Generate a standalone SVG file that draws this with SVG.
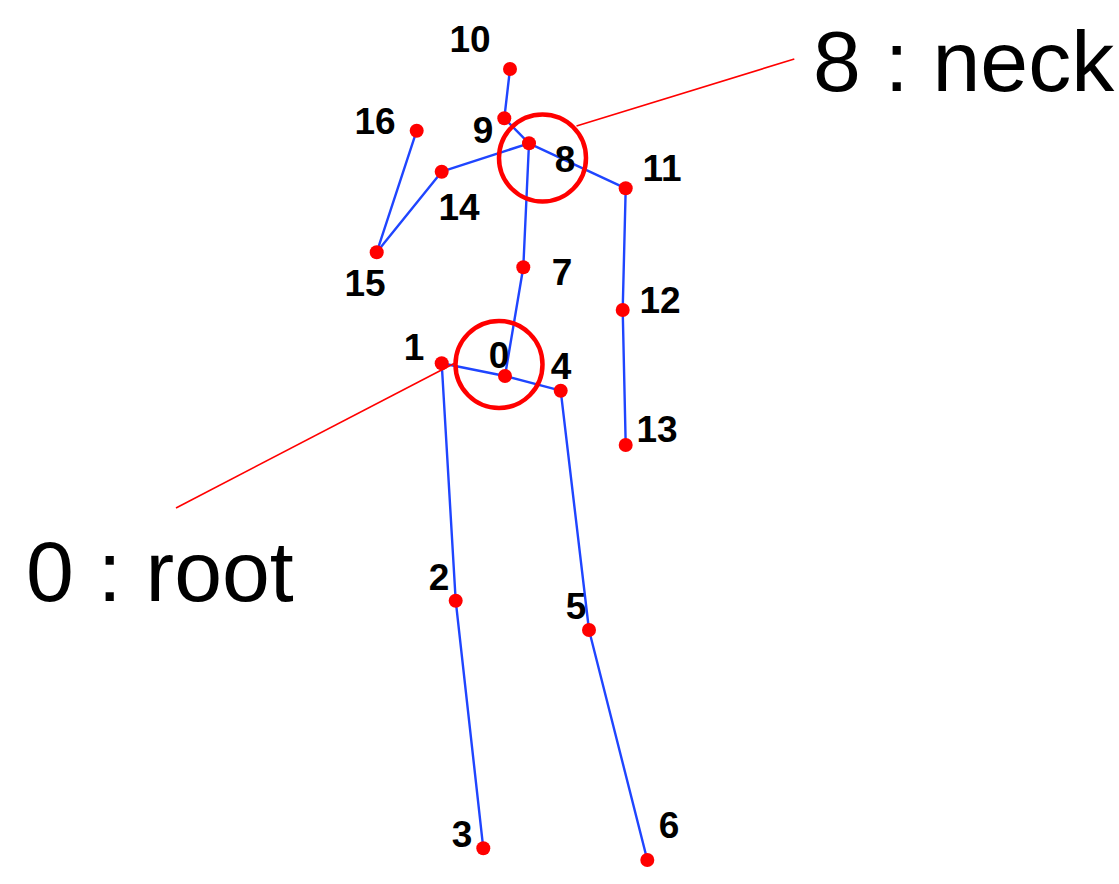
<svg xmlns="http://www.w3.org/2000/svg" width="1119" height="884" viewBox="0 0 1119 884">
<style>
.bone{stroke:#1f45ff;stroke-width:2.4;fill:none;stroke-linecap:round}
.joint{fill:#ff0000}
.lbl{font-family:"Liberation Sans",Arial,sans-serif;font-weight:bold;font-size:37px;fill:#000;text-anchor:middle}
.big{font-family:"Liberation Sans",Arial,sans-serif;font-size:86px;fill:#000}
.hl{fill:none;stroke:#ff0000;stroke-width:4.5}
.lead{stroke:#ff0000;stroke-width:1.6;fill:none}
</style>
<rect width="1119" height="884" fill="#ffffff"/>
<g id="connectors">
<line class="bone" x1="505" y1="376" x2="441.7" y2="363.3"/>
<line class="bone" x1="441.7" y1="363.3" x2="455.7" y2="600.7"/>
<line class="bone" x1="455.7" y1="600.7" x2="483.3" y2="848.3"/>
<line class="bone" x1="505" y1="376" x2="560.7" y2="390.7"/>
<line class="bone" x1="560.7" y1="390.7" x2="589" y2="630"/>
<line class="bone" x1="589" y1="630" x2="647.3" y2="860"/>
<line class="bone" x1="505" y1="376" x2="523.3" y2="267.3"/>
<line class="bone" x1="523.3" y1="267.3" x2="529" y2="143.3"/>
<line class="bone" x1="529" y1="143.3" x2="504.3" y2="118.3"/>
<line class="bone" x1="504.3" y1="118.3" x2="510" y2="69"/>
<line class="bone" x1="529" y1="143.3" x2="625.7" y2="188.3"/>
<line class="bone" x1="625.7" y1="188.3" x2="622.7" y2="310"/>
<line class="bone" x1="622.7" y1="310" x2="625.7" y2="445"/>
<line class="bone" x1="529" y1="143.3" x2="441.7" y2="171.7"/>
<line class="bone" x1="441.7" y1="171.7" x2="376.7" y2="252.3"/>
<line class="bone" x1="376.7" y1="252.3" x2="416.7" y2="130.7"/>
</g>
<g id="j0"><circle class="joint" cx="505" cy="376" r="7"/><text class="lbl" x="499" y="368">0</text></g>
<g id="j1"><circle class="joint" cx="441.7" cy="363.3" r="7"/><text class="lbl" x="414" y="360">1</text></g>
<g id="j2"><circle class="joint" cx="455.7" cy="600.7" r="7"/><text class="lbl" x="439" y="590">2</text></g>
<g id="j3"><circle class="joint" cx="483.3" cy="848.3" r="7"/><text class="lbl" x="462" y="847">3</text></g>
<g id="j4"><circle class="joint" cx="560.7" cy="390.7" r="7"/><text class="lbl" x="561" y="379">4</text></g>
<g id="j5"><circle class="joint" cx="589" cy="630" r="7"/><text class="lbl" x="576" y="619">5</text></g>
<g id="j6"><circle class="joint" cx="647.3" cy="860" r="7"/><text class="lbl" x="669" y="838">6</text></g>
<g id="j7"><circle class="joint" cx="523.3" cy="267.3" r="7"/><text class="lbl" x="562" y="285">7</text></g>
<g id="j8"><circle class="joint" cx="529" cy="143.3" r="7"/><text class="lbl" x="565" y="172">8</text></g>
<g id="j9"><circle class="joint" cx="504.3" cy="118.3" r="7"/><text class="lbl" x="483" y="143">9</text></g>
<g id="j10"><circle class="joint" cx="510" cy="69" r="7"/><text class="lbl" x="470" y="52">10</text></g>
<g id="j11"><circle class="joint" cx="625.7" cy="188.3" r="7"/><text class="lbl" x="662" y="181">11</text></g>
<g id="j12"><circle class="joint" cx="622.7" cy="310" r="7"/><text class="lbl" x="660" y="313">12</text></g>
<g id="j13"><circle class="joint" cx="625.7" cy="445" r="7"/><text class="lbl" x="657" y="442">13</text></g>
<g id="j14"><circle class="joint" cx="441.7" cy="171.7" r="7"/><text class="lbl" x="459" y="220">14</text></g>
<g id="j15"><circle class="joint" cx="376.7" cy="252.3" r="7"/><text class="lbl" x="365" y="296">15</text></g>
<g id="j16"><circle class="joint" cx="416.7" cy="130.7" r="7"/><text class="lbl" x="375" y="134">16</text></g>
<g id="neck-callout">
<circle class="hl" cx="542.5" cy="158" r="43.5"/>
<line class="lead" x1="576.5" y1="126" x2="794.3" y2="59"/>
<text class="big" x="813" y="91">8 : neck</text>
</g>
<g id="root-callout">
<circle class="hl" cx="499" cy="364.5" r="43.5"/>
<line class="lead" x1="455" y1="363" x2="176" y2="508"/>
<text class="big" x="26" y="601">0 : root</text>
</g>
</svg>
